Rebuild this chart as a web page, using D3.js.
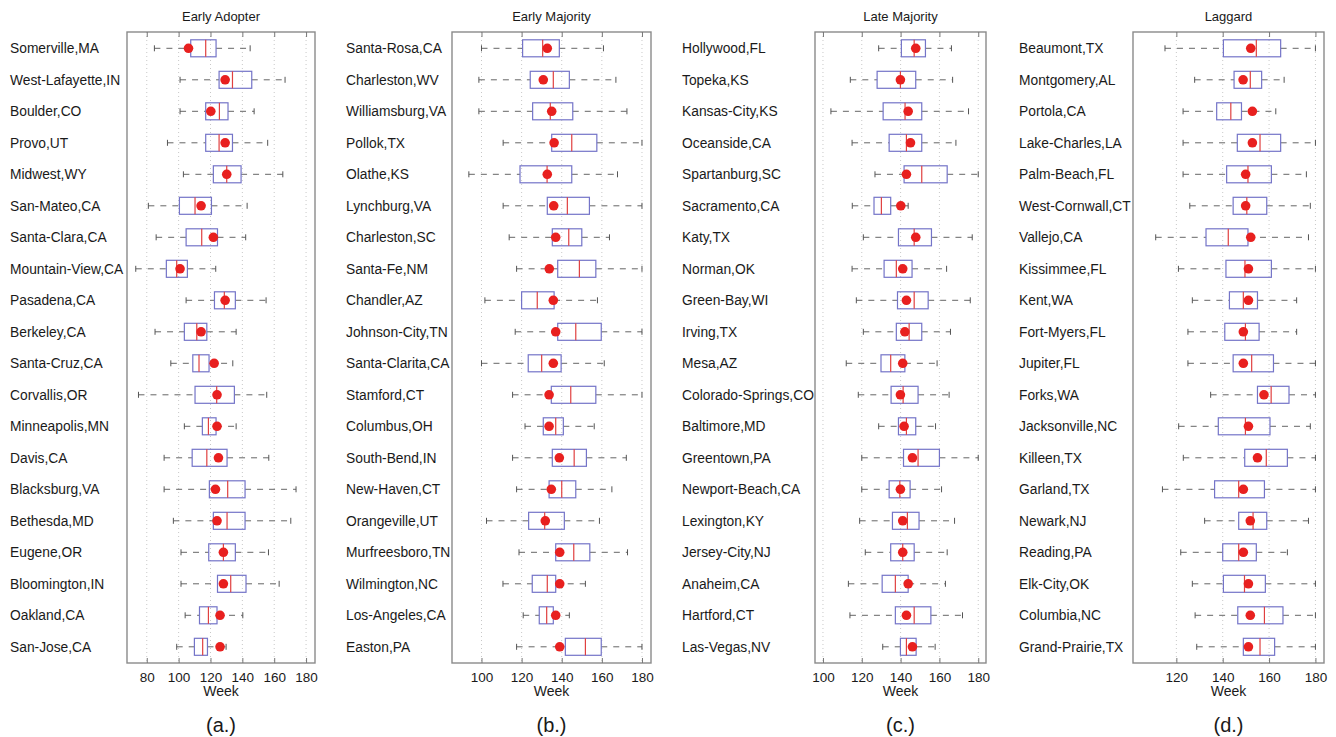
<!DOCTYPE html>
<html><head><meta charset="utf-8">
<script src="https://cdn.jsdelivr.net/npm/d3@7"></script>
<style>
html,body{margin:0;padding:0;background:#fff;}
text{font-family:"Liberation Sans",Arial,Helvetica,sans-serif;fill:#1a1a1a;}
</style></head>
<body>
<svg id="chart" width="1336" height="737"></svg>
<script>
// ---- Data: per city [lowWhisker, q1, median, q3, highWhisker, mean] ----
const titles = ["Early Adopter","Early Majority","Late Majority","Laggard"];
const panelLetters = ["(a.)","(b.)","(c.)","(d.)"];
const tickValuesA = [80,100,120,140,160,180];
const tickValuesB = [100,120,140,160,180];
const tickValuesC = [100,120,140,160,180];
const tickValuesD = [120,140,160,180];

const citiesA = ["Somerville,MA","West-Lafayette,IN","Boulder,CO","Provo,UT","Midwest,WY","San-Mateo,CA","Santa-Clara,CA","Mountain-View,CA","Pasadena,CA","Berkeley,CA","Santa-Cruz,CA","Corvallis,OR","Minneapolis,MN","Davis,CA","Blacksburg,VA","Bethesda,MD","Eugene,OR","Bloomington,IN","Oakland,CA","San-Jose,CA"];
const statsA = [
  [84.8,107.6,117,123.5,144.9,106.2],
  [100.9,125.4,133.8,145.9,166.8,129.2],
  [100.9,117,125.6,131,147.4,120.2],
  [93,117,125.4,133.8,155.9,129.2],
  [103,121.8,130.2,139.2,165.4,130.2],
  [81,100.5,110.3,120.6,143,114.1],
  [85.9,104.7,114.5,124.4,142.1,121.8],
  [73.1,92.3,98.8,105.5,123.3,100.9],
  [104.7,122.5,128.7,135.6,154.9,129.2],
  [85.2,103.6,111.4,117.7,136.1,114.1],
  [95.1,108.9,112.8,119.1,134,122.3],
  [74.8,110.3,123.9,135,155.3,124.1],
  [103.6,114.9,118.7,123.5,136.1,124.1],
  [90.9,108.5,117.7,130.4,156.6,125],
  [90.9,119.3,130.8,141.7,173.7,123.1],
  [96.7,121.8,130.4,141.7,170.4,124.1],
  [101.5,118.9,128.1,135.6,156.4,128.1],
  [101.5,124.4,132.7,142.3,163.1,128.1],
  [104.1,113.1,118.7,124.1,140.3,126],
  [98.8,109.9,115.1,118.1,129.8,126]
];

const citiesB = ["Santa-Rosa,CA","Charleston,WV","Williamsburg,VA","Pollok,TX","Olathe,KS","Lynchburg,VA","Charleston,SC","Santa-Fe,NM","Chandler,AZ","Johnson-City,TN","Santa-Clarita,CA","Stamford,CT","Columbus,OH","South-Bend,IN","New-Haven,CT","Orangeville,UT","Murfreesboro,TN","Wilmington,NC","Los-Angeles,CA","Easton,PA"];
const statsB = [
  [100,120.5,130.5,138.8,160.8,132.8],
  [98.7,124.3,135.8,143.8,167,130.8],
  [98.7,125.5,134.3,145.5,172.5,135],
  [110.8,135,145,157.5,180,136.2],
  [93.7,119.2,132.7,145,167.8,132.8],
  [110.8,132.8,142.8,153.8,180,136],
  [113.8,135.3,143.5,150,163.8,137],
  [117.5,138,148.8,157,180,133.8],
  [101.7,120,127.8,136.2,157.8,135.8],
  [116.8,138,147,159.7,180,137],
  [100,123.3,130,139.7,161.2,135.8],
  [115.5,134.8,144.5,157,180,133.7],
  [121.7,130.8,137,140.8,156.2,133.7],
  [115.5,135.3,146.2,152.3,172.2,138.8],
  [117.5,133.7,140,147,165,134.8],
  [102.5,123.5,131.5,141.3,158.8,131.8],
  [118.7,137,146,154,172.8,139],
  [110.7,125.3,132.8,137,151.8,139],
  [120.8,128.8,132.5,135.8,143.8,137],
  [117.5,141.8,151.8,159.7,180,139]
];

const citiesC = ["Hollywood,FL","Topeka,KS","Kansas-City,KS","Oceanside,CA","Spartanburg,SC","Sacramento,CA","Katy,TX","Norman,OK","Green-Bay,WI","Irving,TX","Mesa,AZ","Colorado-Springs,CO","Baltimore,MD","Greentown,PA","Newport-Beach,CA","Lexington,KY","Jersey-City,NJ","Anaheim,CA","Hartford,CT","Las-Vegas,NV"];
const statsC = [
  [128.7,140.4,147,152.8,166.2,147.8],
  [114.1,127.9,139.9,147.8,166.8,139.9],
  [104.1,131,142.3,150.9,175,143.9],
  [115,134.1,143,150.9,168.5,145.1],
  [126.8,141.8,150.9,164,180,143],
  [115.1,126.3,130.1,134.9,143.9,140.1],
  [120.8,138.9,147,155.9,176.9,147.8],
  [115,131.5,137.8,145.9,163.7,141.1],
  [117.2,138.4,147,154.2,175.9,143],
  [120.8,137.8,144.4,150.9,165.7,142.2],
  [112,129.9,134.9,142.2,158.8,141.1],
  [118.2,135.1,141.3,149,165,139.9],
  [128.7,138.9,143,147.8,158,141.8],
  [120,141.5,149,160,180,146.1],
  [120,134.1,139.6,144.9,161.1,139.9],
  [118.9,135.8,143.5,149.5,167.8,141.1],
  [121.8,134.9,141.1,147,164,141.1],
  [113.1,130.5,137.3,143.9,163.1,143.9],
  [113.9,137.3,147,155.6,171.9,143],
  [130.8,139.9,143,148,157.8,146.1]
];

const citiesD = ["Beaumont,TX","Montgomery,AL","Portola,CA","Lake-Charles,LA","Palm-Beach,FL","West-Cornwall,CT","Vallejo,CA","Kissimmee,FL","Kent,WA","Fort-Myers,FL","Jupiter,FL","Forks,WA","Jacksonville,NC","Killeen,TX","Garland,TX","Newark,NJ","Reading,PA","Elk-City,OK","Columbia,NC","Grand-Prairie,TX"];
const statsD = [
  [115.1,140.3,154.5,165,180,152.1],
  [127.9,144.9,151.9,156.8,166.5,148.8],
  [122.9,137.4,143.5,148.1,162.9,152.8],
  [122.9,146.3,156.1,165,180,152.8],
  [122.9,141.7,150.9,161,176.1,149.9],
  [125.8,144.5,150.4,159,177.8,149.9],
  [111.1,132.8,142.4,150.9,177,152.1],
  [120.9,141.4,149.6,161,180,151.1],
  [126.9,142.9,148.9,155,171.9,151.1],
  [125,140.9,149.8,155.7,171.9,148.9],
  [125,144.5,152.5,161.9,180,148.9],
  [134.8,155,160.9,168.6,180,157.8],
  [121,138.1,149.8,160.4,177.8,151.1],
  [123,149.5,158.8,167.9,180,155],
  [114,136.5,146.9,158,180,148.9],
  [132.2,146.9,153.1,159,177,151.9],
  [121.9,140,146.9,154.5,167.9,148.9],
  [126.9,140.3,149.4,158.4,180,151.1],
  [128.1,146.5,158,166,180,151.9],
  [128.8,148.9,156.1,162.4,180,151.1]
];

// ---- Layout ----
const panels = [
  {cities:citiesA, stats:statsA, ticks:tickValuesA, domain:[67.6,185.6], x0:127, x1:315, labelX:10},
  {cities:citiesB, stats:statsB, ticks:tickValuesB, domain:[85.3,184.5], x0:452, x1:651, labelX:346},
  {cities:citiesC, stats:statsC, ticks:tickValuesC, domain:[95.9,184.0], x0:815, x1:986, labelX:682},
  {cities:citiesD, stats:statsD, ticks:tickValuesD, domain:[101.3,183.7], x0:1133, x1:1324, labelX:1019}
];
const plotTop = 32, plotBottom = 663;
const firstRow = 48.3, lastRow = 646.8;
const boxH = 17, capH = 6, dotR = 4.8;

const svg = d3.select("#chart");

panels.forEach((p, i) => {
  const g = svg.append("g");
  const x = d3.scaleLinear().domain(p.domain).range([p.x0, p.x1]);
  const y = d3.scalePoint().domain(p.cities).range([firstRow, lastRow]);

  // grid lines (dotted)
  g.selectAll("line.grid").data(p.ticks).join("line")
    .attr("x1", d => x(d)).attr("x2", d => x(d))
    .attr("y1", plotTop).attr("y2", plotBottom)
    .attr("stroke", "#c8c8c8").attr("stroke-width", 1)
    .attr("stroke-dasharray", "1,3");

  // frame
  g.append("rect").attr("x", p.x0).attr("y", plotTop)
    .attr("width", p.x1 - p.x0).attr("height", plotBottom - plotTop)
    .attr("fill", "none").attr("stroke", "#8a8a8a").attr("stroke-width", 1.4);

  // bottom axis (inner ticks)
  const axB = d3.axisBottom(x).tickValues(p.ticks).tickSizeInner(-5).tickSizeOuter(0).tickPadding(9);
  const gb = g.append("g").attr("transform", `translate(0,${plotBottom})`).call(axB);
  gb.select(".domain").remove();
  gb.selectAll(".tick line").attr("stroke", "#777");
  gb.selectAll(".tick text").attr("font-size", 13.5).attr("fill", "#1a1a1a")
    .style("font-family", '"Liberation Sans",Arial,sans-serif');
  // top ticks (inner)
  const axT = d3.axisTop(x).tickValues(p.ticks).tickSizeInner(-5).tickSizeOuter(0).tickFormat("");
  const gt = g.append("g").attr("transform", `translate(0,${plotTop})`).call(axT);
  gt.select(".domain").remove();
  gt.selectAll(".tick line").attr("stroke", "#777");

  const cx = (p.x0 + p.x1) / 2;
  g.append("text").attr("x", cx).attr("y", 21).attr("text-anchor", "middle")
    .attr("font-size", 13).text(titles[i]);
  g.append("text").attr("x", cx).attr("y", 696).attr("text-anchor", "middle")
    .attr("font-size", 14).text("Week");
  g.append("text").attr("x", cx).attr("y", 732).attr("text-anchor", "middle")
    .attr("font-size", 20).text(panelLetters[i]);

  // city labels
  g.selectAll("text.city").data(p.cities).join("text")
    .attr("x", p.labelX).attr("y", d => y(d)).attr("dy", "0.35em")
    .attr("font-size", 13.8).text(d => d);

  const rows = p.cities.map((c, k) => ({c, s: p.stats[k]}));
  const r = g.selectAll("g.row").data(rows).join("g");

  // whiskers (dashed)
  r.append("line").attr("x1", d => x(d.s[0])).attr("x2", d => x(d.s[1]))
    .attr("y1", d => y(d.c)).attr("y2", d => y(d.c))
    .attr("stroke", "#666").attr("stroke-dasharray", "6,6");
  r.append("line").attr("x1", d => x(d.s[3])).attr("x2", d => x(d.s[4]))
    .attr("y1", d => y(d.c)).attr("y2", d => y(d.c))
    .attr("stroke", "#666").attr("stroke-dasharray", "6,6");
  // caps
  [0, 4].forEach(k => {
    r.append("line").attr("x1", d => x(d.s[k])).attr("x2", d => x(d.s[k]))
      .attr("y1", d => y(d.c) - capH/2).attr("y2", d => y(d.c) + capH/2)
      .attr("stroke", "#555");
  });
  // box
  r.append("rect").attr("x", d => x(d.s[1])).attr("y", d => y(d.c) - boxH/2)
    .attr("width", d => x(d.s[3]) - x(d.s[1])).attr("height", boxH)
    .attr("fill", "none").attr("stroke", "#7474c8").attr("stroke-width", 1.2);
  // median
  r.append("line").attr("x1", d => x(d.s[2])).attr("x2", d => x(d.s[2]))
    .attr("y1", d => y(d.c) - boxH/2).attr("y2", d => y(d.c) + boxH/2)
    .attr("stroke", "#e04040").attr("stroke-width", 1.2);
  // mean dot
  r.append("circle").attr("cx", d => x(d.s[5])).attr("cy", d => y(d.c))
    .attr("r", dotR).attr("fill", "#e8201f");
});
</script>
</body></html>
